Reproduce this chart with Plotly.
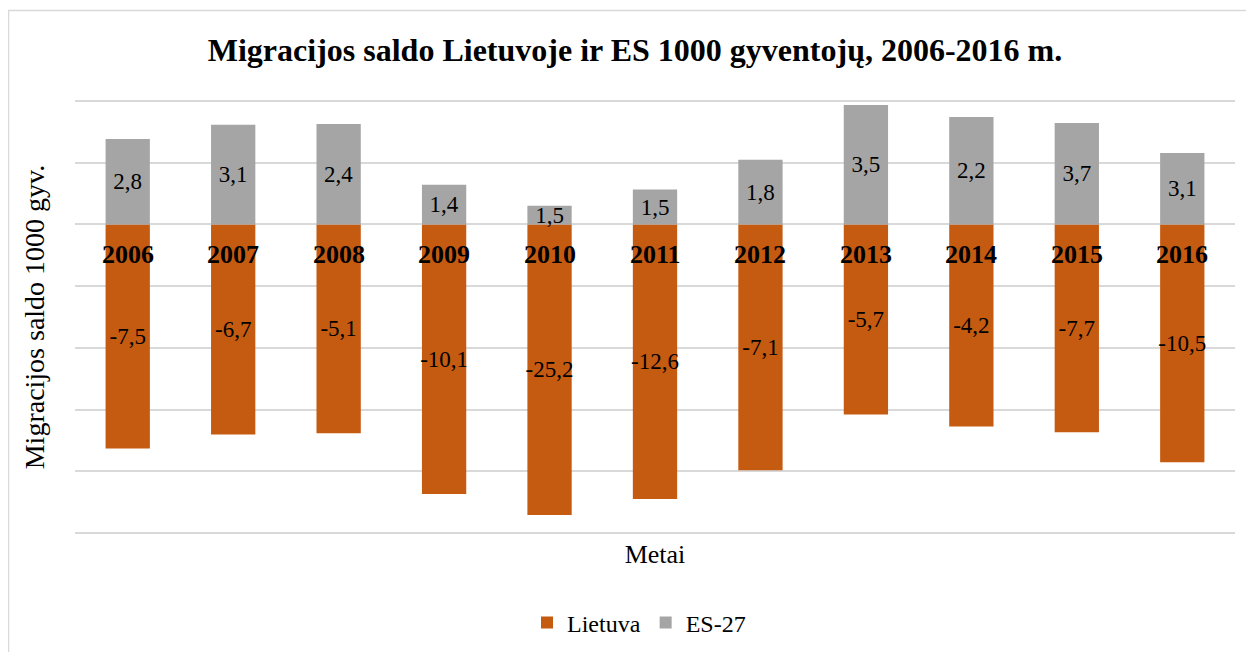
import plotly.graph_objects as go

years = ["2006", "2007", "2008", "2009", "2010", "2011", "2012", "2013", "2014", "2015", "2016"]

# drawn bar heights (as they appear in the picture)
lietuva_bar = [-7.26, -6.81, -6.77, -8.74, -9.42, -8.90, -7.97, -6.16, -6.55, -6.74, -7.71]
es_bar = [2.77, 3.23, 3.26, 1.29, 0.61, 1.13, 2.10, 3.87, 3.48, 3.29, 2.32]

# printed data labels
lietuva_labels = [-7.5, -6.7, -5.1, -10.1, -25.2, -12.6, -7.1, -5.7, -4.2, -7.7, -10.5]
es_labels = [2.8, 3.1, 2.4, 1.4, 1.5, 1.5, 1.8, 3.5, 2.2, 3.7, 3.1]

FONT = "Liberation Serif"
W, H = 1246, 644
L, R, T, B = 67, 19, 90, 116


def fmt(values):
    return [f"{v:.1f}".replace(".", ",") for v in values]


fig = go.Figure()
fig.add_trace(
    go.Bar(
        x=years,
        y=lietuva_bar,
        name="Lietuva",
        marker={"color": "#C55A11", "line": {"width": 0}},
        text=fmt(lietuva_labels),
        textposition="inside",
        insidetextanchor="middle",
        textangle=0,
        insidetextfont={"family": FONT, "size": 23, "color": "#000000"},
    )
)
fig.add_trace(
    go.Bar(
        x=years,
        y=es_bar,
        name="ES-27",
        marker={"color": "#A5A5A5", "line": {"width": 0}},
        text=fmt(es_labels),
        textposition="inside",
        insidetextanchor="middle",
        textangle=0,
        insidetextfont={"family": FONT, "size": 23, "color": "#000000"},
    )
)

for i, year in enumerate(years):
    fig.add_annotation(
        x=i,
        y=0,
        yanchor="middle",
        yshift=-30,
        text=f"<b>{year}</b>",
        showarrow=False,
        font={"family": FONT, "size": 26, "color": "#000000"},
    )

pw, ph = W - L - R, H - T - B
fig.add_shape(
    type="rect",
    xref="paper",
    yref="paper",
    x0=(0.5 - L) / pw,
    x1=(W + 20 - L) / pw,
    y0=-(B + 20) / ph,
    y1=(H - B - 2.5) / ph,
    line={"color": "#D9D9D9", "width": 1.5},
    fillcolor="rgba(0,0,0,0)",
    layer="below",
)

fig.update_layout(
    barmode="relative",
    bargap=0.58,
    width=W,
    height=H,
    margin={"l": L, "r": R, "t": T, "b": B, "autoexpand": False},
    paper_bgcolor="#FFFFFF",
    plot_bgcolor="#FFFFFF",
    font={"family": FONT, "color": "#000000"},
    uniformtext={"minsize": 23, "mode": "show"},
    title={
        "text": "<b>Migracijos saldo Lietuvoje ir ES 1000 gyventojų, 2006-2016 m.</b>",
        "x": 627 / W,
        "xanchor": "center",
        "y": 1 - 42 / H,
        "yanchor": "middle",
        "font": {"family": FONT, "size": 32, "color": "#000000"},
    },
    xaxis={
        "type": "category",
        "range": [-0.5, len(years) - 0.5],
        "showticklabels": False,
        "showgrid": False,
        "zeroline": False,
        "title": {"text": "Metai", "font": {"family": FONT, "size": 26}, "standoff": 8},
    },
    yaxis={
        "range": [-10.1, 4.1],
        "dtick": 2,
        "showticklabels": False,
        "gridcolor": "#D9D9D9",
        "gridwidth": 1.5,
        "zeroline": True,
        "zerolinecolor": "#D9D9D9",
        "zerolinewidth": 1.5,
        "title": {"text": "Migracijos saldo 1000 gyv.", "font": {"family": FONT, "size": 28}, "standoff": 21},
    },
    legend={
        "orientation": "h",
        "x": (631 - L) / pw,
        "xanchor": "center",
        "y": -(615 - (H - B)) / ph,
        "yanchor": "middle",
        "itemwidth": 30,
        "font": {"family": FONT, "size": 24},
        "traceorder": "normal",
    },
)

fig.write_html("out.html")
